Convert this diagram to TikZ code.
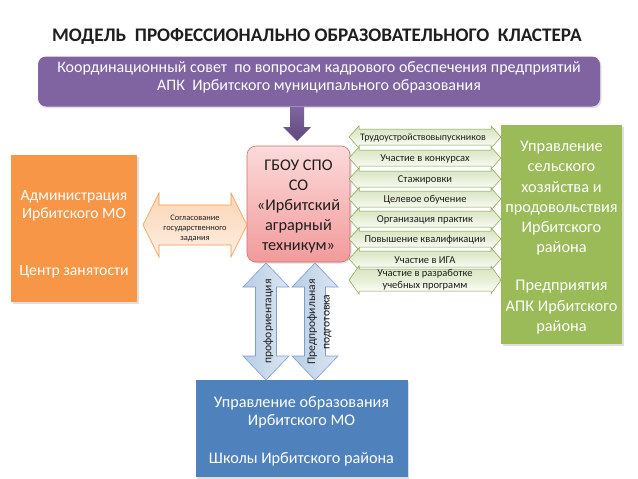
\documentclass[tikz,border=0pt]{standalone}
\usepackage{fontspec}
\setmainfont{Carlito}
\usetikzlibrary{shadows}
\definecolor{purp}{HTML}{8064A2}
\definecolor{purpdark}{HTML}{5F497A}
\definecolor{orng}{HTML}{F79646}
\definecolor{orngl}{HTML}{FBD5B5}
\definecolor{grn}{HTML}{9BBB59}
\definecolor{grnl}{HTML}{D7E4BD}
\definecolor{blu}{HTML}{4F81BD}
\definecolor{blul}{HTML}{B9CDE5}
\definecolor{bluline}{HTML}{7C9FD0}
\definecolor{pinkt}{HTML}{FCDADA}
\definecolor{pinkb}{HTML}{F29A9A}
\definecolor{pinkline}{HTML}{D07070}
\definecolor{txt}{HTML}{1E1E1E}
% horizontal double arrow: x1 x2 yc headhalf shafthalf headlen style
\newcommand{\hdarr}[7]{%
 \path[#7] (#1,#3) -- ({#1+#6},{#3-#4}) -- ({#1+#6},{#3-#5}) -- ({#2-#6},{#3-#5}) -- ({#2-#6},{#3-#4}) -- (#2,#3) -- ({#2-#6},{#3+#4}) -- ({#2-#6},{#3+#5}) -- ({#1+#6},{#3+#5}) -- ({#1+#6},{#3+#4}) -- cycle;}
% vertical double arrow: y1 y2 xc headhalf shafthalf headlen style
\newcommand{\vdarr}[7]{%
 \path[#7] (#3,#1) -- ({#3+#4},{#1+#6}) -- ({#3+#5},{#1+#6}) -- ({#3+#5},{#2-#6}) -- ({#3+#4},{#2-#6}) -- (#3,#2) -- ({#3-#4},{#2-#6}) -- ({#3-#5},{#2-#6}) -- ({#3-#5},{#1+#6}) -- ({#3-#4},{#1+#6}) -- cycle;}
\begin{document}
\begin{tikzpicture}[x=1pt,y=-1pt,
  box/.style={draw=none,inner sep=0pt,
    drop shadow={opacity=0.25,shadow xshift=1.5pt,shadow yshift=-1.5pt}},
  boxtext/.style={text=white,align=center,inner sep=0pt},
  garrow/.style={draw=grn!85!black,line width=0.5pt,top color=grnl,bottom color=white,middle color=grnl!60},
  glabel/.style={text=txt,font=\fontsize{10.5}{11}\selectfont,inner sep=0pt,align=center},
  varrow/.style={draw=bluline,line width=0.6pt,left color=blul,right color=blul!50},
]
\useasboundingbox[fill=white] (0,0) rectangle (638,479);

% title
\node[text=txt,font=\fontsize{19.2}{22}\bfseries\selectfont] (title) at (317,36)
  {МОДЕЛЬ\ \ ПРОФЕССИОНАЛЬНО ОБРАЗОВАТЕЛЬНОГО\ \ КЛАСТЕРА};

% purple council box
\node[box,fill=purp,rounded corners=8pt,minimum width=562pt,minimum height=50pt] (council) at (319,81.5) {};
\node[boxtext,font=\fontsize{16}{17.5}\selectfont] (counciltext) at (319,77.5)
  {Координационный совет\ \ по вопросам кадрового обеспечения предприятий\\АПК\ \ Ирбитского муниципального образования};

% purple arrow down
\path[top color=purp,bottom color=purpdark] (290,107) -- (304,107) -- (304,127) -- (311,127) -- (297,141) -- (283,127) -- (290,127) -- cycle;

% pink college box
\node[box,rounded corners=9pt,draw=pinkline,line width=0.6pt,top color=pinkt,bottom color=pinkb,
  minimum width=103pt,minimum height=116pt] (college) at (298.5,204) {};
\node[boxtext,text=txt,font=\fontsize{16.3}{20}\selectfont] (collegetext) at (298.5,206.5)
  {ГБОУ СПО\\СО\\«Ирбитский\\аграрный\\техникум»};

% orange box
\node[box,fill=orng,minimum width=126pt,minimum height=147pt] (admin) at (74,228.5) {};
\node[boxtext,font=\fontsize{15.7}{18}\selectfont] (admintext) at (74,234)
  {Администрация\\Ирбитского МО\\[39pt]Центр занятости};

% green box
\node[box,fill=grn,minimum width=121pt,minimum height=219pt] (agri) at (561.5,234.5) {};
\node[boxtext,font=\fontsize{16.3}{20.2}\selectfont] (agritext) at (561.5,237.5)
  {Управление\\сельского\\хозяйства и\\продовольствия\\Ирбитского\\района\\[18pt]Предприятия\\АПК Ирбитского\\района};

% blue box
\node[box,fill=blu,minimum width=212pt,minimum height=97pt] (edu) at (301.5,428.5) {};
\node[boxtext,font=\fontsize{16.2}{17.8}\selectfont] (edutext) at (301.5,431)
  {Управление образования\\Ирбитского МО\\[20pt]Школы Ирбитского района};

% orange double arrow
\hdarr{143}{247}{225}{32}{20}{16}{draw=orng,line width=0.6pt,top color=orngl,bottom color=orngl!40}
\node[text=txt,font=\fontsize{8.4}{10}\selectfont,align=center,inner sep=0pt] (agree) at (195,228)
  {Согласование\\государственного\\задания};

% green double arrows
\foreach \yc in {137,158,179,199,219,239,259}{
  \hdarr{349}{501}{\yc}{11}{8}{10}{garrow}
}
\hdarr{349}{501}{280}{14}{11}{10}{garrow}
\node[glabel,font=\fontsize{10}{11}\selectfont] (g1) at (423,137.5) {Трудоустройство\kern-0.5pt выпускников};
\node[glabel] (g2) at (425,159) {Участие в конкурсах};
\node[glabel] (g3) at (425,180) {Стажировки};
\node[glabel] (g4) at (425,200) {Целевое обучение};
\node[glabel] (g5) at (425,220) {Организация практик};
\node[glabel] (g6) at (425,240) {Повышение квалификации};
\node[glabel] (g7) at (425,260) {Участие в ИГА};
\node[glabel,font=\fontsize{10.5}{12.5}\selectfont] (g8) at (425,280) {Участие в разработке\\учебных программ};

% blue vertical double arrows
\vdarr{263}{380}{266}{23}{10.5}{24}{varrow}
\vdarr{263}{380}{315}{23}{10.5}{24}{varrow}
\node[rotate=90,text=txt,font=\fontsize{11.6}{12}\selectfont,inner sep=0pt] (prof) at (268.5,321.5) {профориентация};
\node[rotate=90,text=txt,font=\fontsize{11.6}{14.5}\selectfont,align=center,inner sep=0pt] (pre) at (319.5,322) {Предпрофильная\\подготовка};
\end{tikzpicture}
\end{document}
